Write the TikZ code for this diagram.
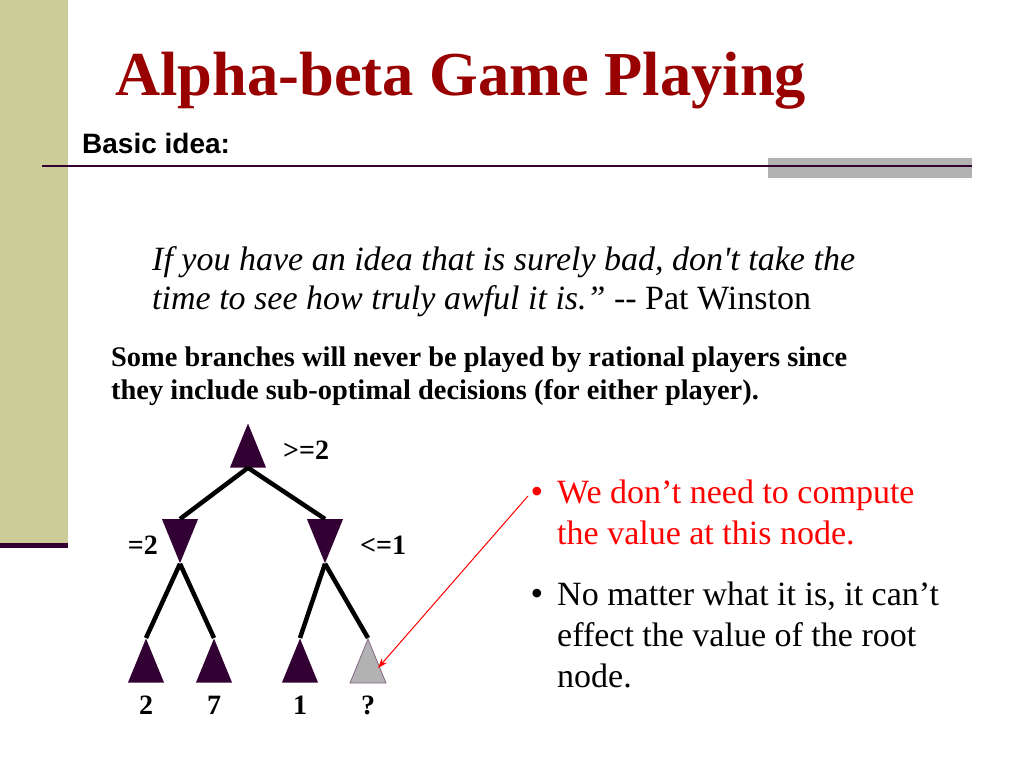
\documentclass[tikz,border=0pt]{standalone}
\usepackage{fontspec}
\setmainfont{Liberation Serif}
\newfontfamily\arialfont{Liberation Sans}
\usetikzlibrary{shapes.geometric,arrows.meta}
\definecolor{khaki}{RGB}{204,204,153}
\definecolor{darkpurple}{RGB}{51,0,51}
\definecolor{titlered}{RGB}{153,0,0}
\definecolor{bargray}{RGB}{178,178,178}
\definecolor{leafgray}{RGB}{178,178,178}
\tikzset{
  txt/.style={anchor=base west, inner sep=0pt},
  tri/.style={isosceles triangle, isosceles triangle apex angle=44.5, isosceles triangle stretches,
    minimum width=36pt, minimum height=44pt, inner sep=0pt, fill=darkpurple, draw=none},
  up/.style={tri, shape border rotate=90},
  down/.style={tri, shape border rotate=270},
  edge/.style={line width=4.5pt, black},
  lbl/.style={inner sep=0pt, font=\fontsize{28}{32}\selectfont\bfseries},
  bul/.style={anchor=base, inner sep=0pt, font=\fontsize{36}{41}\selectfont},
}
\begin{document}
\begin{tikzpicture}[x=1pt,y=-1pt]
\useasboundingbox (0,0) rectangle (1024,768);
\fill[white] (0,0) rectangle (1024,768);
% decoration
\fill[khaki] (0,0) rectangle (68,544);
\fill[darkpurple] (0,543) rectangle (68,548);
\fill[bargray] (768,158) rectangle (972,178);
\draw[darkpurple, line width=2pt] (42,166) -- (972,166);
% title
\node[txt, text=titlered, font=\fontsize{62.5}{70}\selectfont\bfseries] (title) at (115,95) {Alpha-beta Game Playing};
\node[txt, font=\arialfont\fontsize{28}{32}\selectfont\bfseries] (basic) at (82,153) {Basic idea:};
% quote
\node[txt, font=\fontsize{34}{40}\selectfont] (q1) at (152,270) {\itshape If you have an idea that is surely bad, don\textquotesingle t take the};
\node[txt, font=\fontsize{34}{40}\selectfont] (q2) at (152,309) {\itshape time to see how truly awful it is.\textquotedblright\upshape\ -{}- Pat Winston};
% bold statement
\node[txt, font=\fontsize{28.4}{32}\selectfont\bfseries] (s1) at (111,366) {Some branches will never be played by rational players since};
\node[txt, font=\fontsize{28.4}{32}\selectfont\bfseries] (s2) at (111,399) {they include sub-optimal decisions (for either player).};
% tree
\node[up, anchor=apex] (root) at (248,423) {};
\node[down, anchor=lower side] (ml) at (180,519) {};
\node[down, anchor=lower side] (mr) at (325,519) {};
\node[up, anchor=apex] (l1) at (146,638) {};
\node[up, anchor=apex] (l2) at (214,638) {};
\node[up, anchor=apex] (l3) at (300,638) {};
\node[up, anchor=apex, fill=leafgray, draw=darkpurple!60, line width=0.8pt] (l4) at (368,638) {};
\draw[edge] (root.lower side) -- (ml.lower side);
\draw[edge] (root.lower side) -- (mr.lower side);
\draw[edge] (ml.apex) -- (l1.apex);
\draw[edge] (ml.apex) -- (l2.apex);
\draw[edge] (mr.apex) -- (l3.apex);
\draw[edge] (mr.apex) -- (l4.apex);
\node[lbl, anchor=west] (lroot) at (283,450) {>=2};
\node[lbl, anchor=east] (lml) at (158,545) {=2};
\node[lbl, anchor=west] (lmr) at (360,545) {<=1};
\node[lbl] (v1) at (146,705) {2};
\node[lbl] (v2) at (214,705) {7};
\node[lbl] (v3) at (300,705) {1};
\node[lbl] (v4) at (368,705) {?};
% bullets
\node[txt, text=red, font=\fontsize{34}{41}\selectfont] (b1a) at (557,503) {We don\textquoteright t need to compute};
\node[txt, text=red, font=\fontsize{34}{41}\selectfont] (b1b) at (557,544) {the value at this node.};
\node[bul, text=red] (dot1) at (537,503) {\textbullet};
\node[txt, font=\fontsize{34}{41}\selectfont] (b2a) at (557,605) {No matter what it is, it can\textquoteright t};
\node[txt, font=\fontsize{34}{41}\selectfont] (b2b) at (557,646) {effect the value of the root};
\node[txt, font=\fontsize{34}{41}\selectfont] (b2c) at (557,687) {node.};
\node[bul] (dot2) at (537,605) {\textbullet};
% arrow
\coordinate (astart) at (528,496);
\coordinate (aend) at (378,668);
\draw[red, line width=1pt, -{Stealth[length=10pt,width=7pt]}] (astart) -- (aend);
\end{tikzpicture}
\end{document}
